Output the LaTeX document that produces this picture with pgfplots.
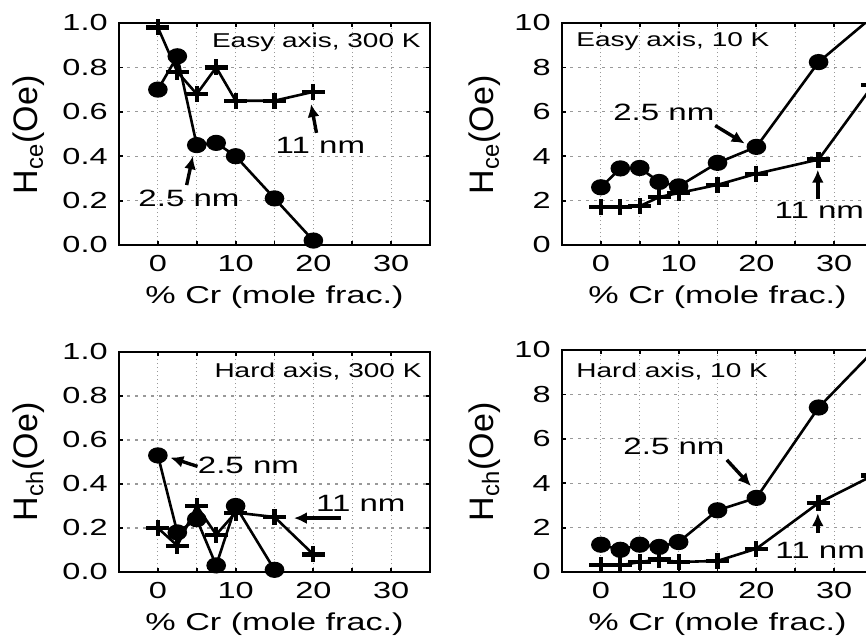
\documentclass[border=0pt]{standalone}
\usepackage{fontspec}
\setmainfont{Liberation Sans}
\newfontfamily\widefont{Liberation Sans}[FakeStretch=1.4]
\usepackage{pgfplots}
\pgfplotsset{compat=1.18}
\usetikzlibrary{arrows.meta}

\newcommand\tickfont{\widefont\fontsize{11.6}{13}\selectfont}
\newcommand\labfont{\widefont\fontsize{12.2}{14}\selectfont}
\newcommand\notefont{\widefont\fontsize{11.8}{14}\selectfont}
\newcommand\titlefont{\widefont\fontsize{10}{12}\selectfont}
\newcommand\ylabfont{\fontsize{17}{20}\selectfont}

\pgfplotsset{
  panel/.style={
    scale only axis, width=155.5pt, height=111pt,
    xmin=-5, xmax=35,
    xtick={0,10,20,30}, minor xtick={5,15,25},
    tick align=inside, major tick length=2.2pt, minor tick length=2.2pt,
    tick style={black, line width=0.9pt},
    xmajorgrids, xminorgrids, ymajorgrids,
    major x grid style={gray!80, line width=0.6pt, dash pattern=on 0.7pt off 1.3pt},
    minor x grid style={gray!80, line width=0.6pt, dash pattern=on 0.7pt off 1.3pt},
    major y grid style={gray!80, line width=0.6pt, dash pattern=on 1.5pt off 2.5pt},
    axis line style={line width=1pt},
    /pgf/number format/assume math mode=true,
    ticklabel style={font=\tickfont},
    xticklabel style={anchor=north, inner sep=0pt, yshift=-5pt},
    yticklabel style={anchor=east, inner sep=0pt, xshift=-5.5pt},
    xlabel={\% Cr (mole frac.)},
    xlabel style={font=\labfont, at={(axis description cs:0.5,0)}, anchor=center, yshift=-26pt},
    clip=true,
  },
  unitrange/.style={ymin=0, ymax=1, ytick={0,0.2,...,1.0},
    yticklabel style={/pgf/number format/.cd, fixed, fixed zerofill, precision=1}},
  tenrange/.style={ymin=0, ymax=10, ytick={0,2,...,10}},
  circ/.style={black, line width=1.3pt, mark=*, mark size=3.4pt,
    mark options={xscale=1.25, solid}},
  crs/.style={black, line width=1.3pt, mark=+, mark size=4pt,
    mark options={xscale=1.45, line width=2.1pt, solid}},
}
\tikzset{
  arr/.style={black, line width=1.7pt, -{Latex[length=6.5pt,width=6pt]}},
  note/.style={font=\notefont, inner sep=0pt},
  ttl/.style={font=\titlefont, inner sep=0pt},
  ylab/.style={font=\ylabfont, rotate=90, inner sep=0pt, anchor=center},
}

\begin{document}
\begin{tikzpicture}
\useasboundingbox (0,0) rectangle (433pt,319.5pt);
\clip (0,0) rectangle (433pt,319.5pt);

% axis titles on the left of each panel
\node[ylab] at (14.5pt,252pt) {H\textsubscript{ce}(Oe)};
\node[ylab] at (242.5pt,252pt) {H\textsubscript{ce}(Oe)};
\node[ylab] at (14.5pt,88.5pt) {H\textsubscript{ch}(Oe)};
\node[ylab] at (242.5pt,88.5pt) {H\textsubscript{ch}(Oe)};

% Easy axis, 300 K
\begin{axis}[panel, unitrange, at={(59.5pt,197pt)}, anchor=south west]
\addplot[circ] coordinates {(0,0.70) (2.5,0.85) (5,0.45) (7.5,0.46) (10,0.40) (15,0.21) (20,0.02)};
\addplot[crs] coordinates {(0,0.98) (2.5,0.78) (5,0.68) (7.5,0.80) (10,0.65) (15,0.65) (20,0.69)};
\node[ttl, anchor=east] at (rel axis cs:0.971,0.914) {Easy axis, 300 K};
\node[note] at (axis cs:20.9,0.45) {11 nm};
\draw[arr] (axis cs:20.4,0.505) -- (axis cs:19.7,0.635);
\node[note] at (axis cs:4.0,0.21) {2.5 nm};
\draw[arr] (axis cs:3.7,0.27) -- (axis cs:4.5,0.40);
\end{axis}

% Easy axis, 10 K
\begin{axis}[panel, tenrange, at={(281pt,197pt)}, anchor=south west]
\addplot[circ] coordinates {(0,2.60) (2.5,3.45) (5,3.47) (7.5,2.84) (10,2.64) (15,3.70) (20,4.42) (28,8.24) (35,10.3)};
\addplot[crs] coordinates {(0,1.70) (2.5,1.70) (5,1.75) (7.5,2.16) (10,2.34) (15,2.71) (20,3.21) (28,3.85) (35,7.2)};
\node[ttl, anchor=west] at (rel axis cs:0.045,0.918) {Easy axis, 10 K};
\node[note] at (axis cs:8.1,5.97) {2.5 nm};
\draw[arr] (axis cs:14.7,5.38) -- (axis cs:18.5,4.57);
\node[note, anchor=west] at (axis cs:22.3,1.54) {11 nm};
\draw[arr] (axis cs:27.9,2.08) -- (axis cs:27.9,3.39);
\end{axis}

% Hard axis, 300 K
\begin{axis}[panel, unitrange, at={(59.5pt,33.5pt)}, anchor=south west, height=110pt]
\addplot[circ] coordinates {(0,0.53) (2.5,0.18) (5,0.24) (7.5,0.03) (10,0.30) (15,0.01)};
\addplot[crs] coordinates {(0,0.20) (2.5,0.12) (5,0.30) (7.5,0.17) (10,0.27) (15,0.25) (20,0.08)};
\node[ttl, anchor=east] at (rel axis cs:0.974,0.909) {Hard axis, 300 K};
\node[note, anchor=west] at (axis cs:5.1,0.486) {2.5 nm};
\draw[arr] (axis cs:5.1,0.48) -- (axis cs:1.6,0.52);
\node[note] at (axis cs:26.1,0.31) {11 nm};
\draw[arr] (axis cs:23.5,0.245) -- (axis cs:17.5,0.245);
\end{axis}

% Hard axis, 10 K
\begin{axis}[panel, tenrange, at={(281pt,33.5pt)}, anchor=south west]
\addplot[circ] coordinates {(0,1.23) (2.5,1.00) (5,1.23) (7.5,1.13) (10,1.35) (15,2.78) (20,3.34) (28,7.41) (36,10.3)};
\addplot[crs] coordinates {(0,0.30) (2.5,0.30) (5,0.45) (7.5,0.56) (10,0.45) (15,0.50) (20,1.05) (28,3.11) (35,4.35)};
\node[ttl, anchor=west] at (rel axis cs:0.045,0.905) {Hard axis, 10 K};
\node[note] at (axis cs:9.4,5.68) {2.5 nm};
\draw[arr] (axis cs:16.2,5.05) -- (axis cs:19.3,3.87);
\node[note, anchor=west] at (axis cs:22.4,0.99) {11 nm};
\draw[arr] (axis cs:27.9,1.75) -- (axis cs:27.9,2.65);
\end{axis}
\end{tikzpicture}
\end{document}
